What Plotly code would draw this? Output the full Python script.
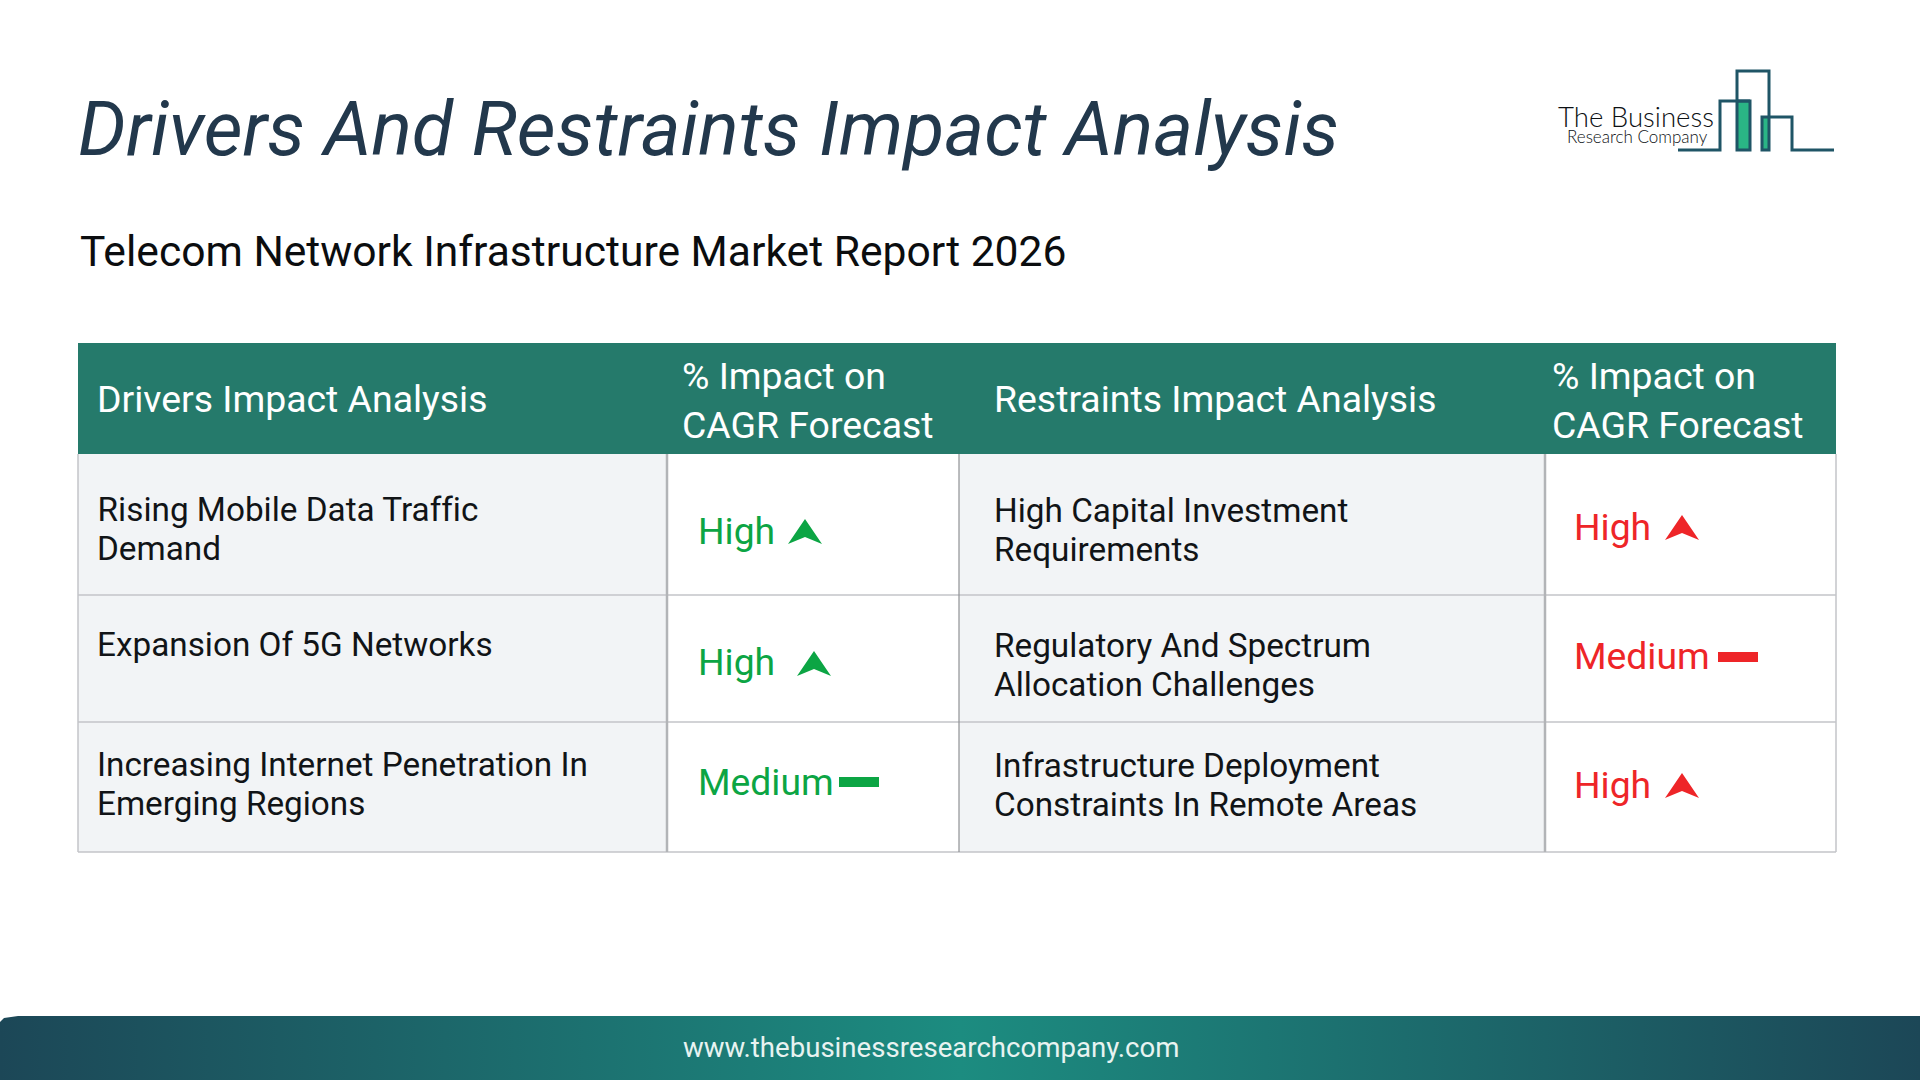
import plotly.graph_objects as go

# table text
title = "Drivers And Restraints Impact Analysis"
subtitle = "Telecom Network Infrastructure Market Report 2026"
footer = "www.thebusinessresearchcompany.com"
headers = ["Drivers Impact Analysis", "% Impact on<br>CAGR Forecast",
           "Restraints Impact Analysis", "% Impact on<br>CAGR Forecast"]
drivers = ["Rising Mobile Data Traffic", "Demand", "Expansion Of 5G Networks",
           "Increasing Internet Penetration In", "Emerging Regions"]
driver_impact = ["High", "High", "Medium"]
restraints = ["High Capital Investment<br>Requirements", "Regulatory And Spectrum<br>Allocation Challenges",
              "Infrastructure Deployment<br>Constraints In Remote Areas"]
restraint_impact = ["High", "Medium", "High"]

# layout, in page pixels
col_x = [78, 667, 959, 1545, 1836]
row_y = [343, 454, 595, 722, 852]
driver_text_y = [531, 661.5, 781.5]
driver_icon_x = [805, 814, 859]
driver_icon_y = [532, 664, 782]
restraint_text_y = [526.5, 655.5, 784.5]
restraint_icon_x = [1682, 1738, 1682]
restraint_icon_y = [528, 657, 786]
# one entry per text line, the first is nudged because of the ligature fix at the bottom
driver_line_x = [98.5, 97, 97, 97, 97]
driver_line_y = [509.5, 548.5, 644, 764.5, 803.5]
restraint_name_y = [530, 665, 785]

GREEN = "#0ca544"
RED = "#ee2528"
HEADER = "#257a6b"
CELL = "#f2f4f6"
LINE = "#c3c5c8"
INK = "#111417"
LOGO = "#1f5566"
FONT = "Roboto"

fig = go.Figure()
shapes = []
notes = []


def rect(x0, y0, x1, y1, fill, line=None, width=0):
    shapes.append(dict(type="rect", x0=x0, y0=y0, x1=x1, y1=y1, fillcolor=fill,
                       line=dict(color=line or fill, width=width), layer="below"))


def hline(x0, x1, y, color=LINE, width=1.5):
    shapes.append(dict(type="line", x0=x0, x1=x1, y0=y, y1=y, line=dict(color=color, width=width)))


def vline(x, y0, y1, color=LINE, width=1.5):
    shapes.append(dict(type="line", x0=x, x1=x, y0=y0, y1=y1, line=dict(color=color, width=width)))


def label(x, y, text, size, color=INK, anchor="left", italic=False, family=FONT, gap=None):
    # each line goes in by itself, the line spacing differs from plotly's default
    lines = text.split("<br>")
    gap = gap or size * 1.3
    top = y - gap * (len(lines) - 1) / 2
    for i, line in enumerate(lines):
        notes.append(dict(x=x, y=top + i * gap, text=line, showarrow=False, xanchor=anchor, yanchor="middle",
                          borderpad=0, borderwidth=0,
                          font=dict(family=family, size=size, color=color,
                                    style="italic" if italic else "normal")))


def icon(level, x, y, color):
    if level == "High":
        path = f"M {x} {y-13} L {x+17} {y+12} L {x} {y+5} L {x-17} {y+12} Z"
        shapes.append(dict(type="path", path=path, fillcolor=color, line=dict(width=0)))
    else:
        rect(x - 20, y - 5, x + 20, y + 5, color)


# footer band, the gradient needs a trace
band_x = [0, 0, 4, 10, 18, 1920, 1920, 0]
band_y = [1080, 1022, 1018, 1017, 1016, 1016, 1080, 1080]
fig.add_trace(go.Scatter(x=band_x, y=band_y, mode="lines", fill="toself", line=dict(width=0),
                         fillgradient=dict(type="horizontal",
                                           colorscale=[[0, "#1c4757"], [0.5, "#1c8c80"], [1, "#1c4757"]]),
                         hoverinfo="skip", showlegend=False))

# table
rect(col_x[0], row_y[0], col_x[4], row_y[1], HEADER)
rect(col_x[0], row_y[1], col_x[1], row_y[4], CELL)
rect(col_x[2], row_y[1], col_x[3], row_y[4], CELL)
for y in row_y[2:]:
    hline(col_x[0], col_x[4], y)
vline(col_x[0], row_y[1], row_y[4])
vline(col_x[1], row_y[1], row_y[4], "#b2b4b7", 2.5)
vline(col_x[2], row_y[1], row_y[4], "#8f9194", 1.2)
vline(col_x[3], row_y[1], row_y[4], "#b2b4b7", 2.5)
vline(col_x[4], row_y[1], row_y[4])

header_x = [97, 682, 994, 1552]
header_y = [399, 400.5, 399, 400.5]
for x, y, text in zip(header_x, header_y, headers):
    label(x, y, text, 37.4, "#ffffff", gap=49)

for x, y, text in zip(driver_line_x, driver_line_y, drivers):
    label(x, y, text, 33.3)

for i in range(3):
    label(698, driver_text_y[i], driver_impact[i], 37.3, GREEN)
    icon(driver_impact[i], driver_icon_x[i], driver_icon_y[i], GREEN)
    label(994, restraint_name_y[i], restraints[i], 33.3, gap=39)
    label(1574, restraint_text_y[i], restraint_impact[i], 37.3, RED)
    icon(restraint_impact[i], restraint_icon_x[i], restraint_icon_y[i], RED)

label(78, 129, title, 75.5, "#22384c", italic=True)
label(80, 251, subtitle, 42.6, "#0b0d0f")
label(931, 1047, footer, 27.6, "#e8f3f1", anchor="center")

# logo
rect(1737, 101, 1750, 150, "#2ab585")
rect(1762, 117, 1769, 150, "#2ab585")
logo_lines = [
    "M 1678 150 L 1720 150 L 1720 101 L 1750 101 L 1750 150 L 1737 150 L 1737 71 L 1769 71 L 1769 150 L 1762 150 "
    "L 1762 117 L 1792 117 L 1792 150 L 1834 150",
    "M 1737 101 L 1750 101",
]
for p in logo_lines:
    shapes.append(dict(type="path", path=p, line=dict(color=LOGO, width=3)))
label(1636, 116, "The Business", 27.6, "#0c1013", anchor="center", family="Lato Light")
label(1637, 136, "Research Company", 17, "#0c1013", anchor="center", family="Lato Light")

fig.update_layout(
    width=1920, height=1080, autosize=False,
    margin=dict(l=0, r=0, t=0, b=0),
    paper_bgcolor="#ffffff", plot_bgcolor="#ffffff",
    xaxis=dict(range=[0, 1920], visible=False, fixedrange=True),
    yaxis=dict(range=[1080, 0], visible=False, fixedrange=True),
    shapes=shapes, annotations=notes,
    showlegend=False,
)

# no ffi ligature in the reference, plotly writes font-variant inline so this needs !important
page_fix = """
document.body.style.margin = '0';
var st = document.createElement('style');
st.textContent = 'text { font-variant-ligatures: none !important; }';
document.head.appendChild(st);
"""
fig.write_html("out.html", config=dict(displayModeBar=False), post_script=page_fix)
